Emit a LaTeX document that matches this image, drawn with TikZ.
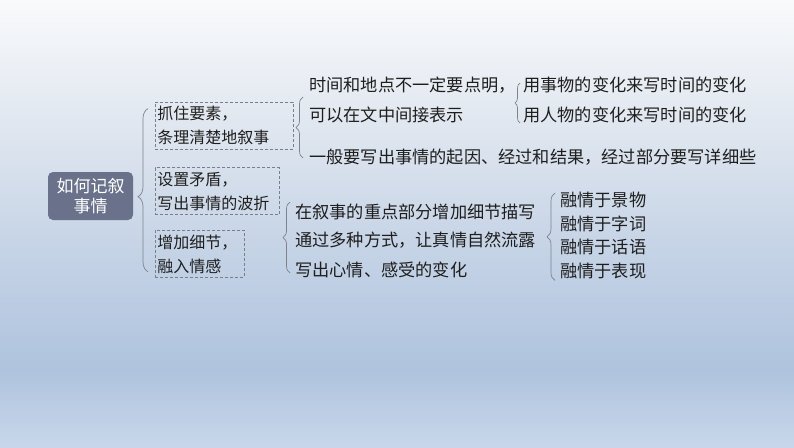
\documentclass[tikz,border=0pt]{standalone}
\usepackage{fontspec}
\setmainfont{Noto Sans CJK SC}
\usepackage{tikz}
\usetikzlibrary{positioning,decorations.pathreplacing}
\definecolor{bgtop}{RGB}{249, 250, 252}
\definecolor{bglight}{RGB}{223, 230, 239}
\definecolor{bgmid}{RGB}{197, 211, 230}
\definecolor{bgdark}{RGB}{175, 195, 222}
\definecolor{bgbot}{RGB}{200, 215, 234}
\definecolor{rootgray}{RGB}{105, 114, 138}
\definecolor{dashgray}{RGB}{120, 126, 138}
\definecolor{bracegray}{RGB}{125, 130, 140}
\definecolor{ink}{RGB}{30, 30, 30}
\pgfdeclareverticalshading{slidebg}{100bp}{color(0bp)=(bgbot); color(25bp)=(bgbot);
    color(33.6bp)=(bgdark); color(47bp)=(bgmid); color(60.5bp)=(bglight);
    color(75bp)=(bgtop); color(100bp)=(bgtop)}
\tikzstyle{root} = [rectangle, fill=rootgray, text=white, rounded corners=5pt,
    minimum width=85pt, minimum height=48pt, align=center,
    font=\fontsize{17}{20}\selectfont]
\tikzstyle{topic} = [rectangle, draw=dashgray, dash pattern=on 3pt off 2pt, line width=0.7pt,
    text=ink, align=left, inner xsep=2pt, inner ysep=0pt, minimum height=47pt,
    font=\fontsize{16}{24}\selectfont]
\tikzstyle{leaf} = [inner sep=0pt, anchor=west, text=ink, font=\fontsize{17.2}{20}\selectfont]
\tikzstyle{bracket} = [draw=bracegray, line width=0.7pt, decorate]

\begin{document}
\begin{tikzpicture}[x=1pt, y=-1pt]
  \useasboundingbox (0,0) rectangle (794,447);
  \shade[shading=slidebg] (0,0) rectangle (794,447);
  \node [root] (story) at (90.5,196) {如何记叙\\事情};
  \node [topic, text width=134pt, anchor=west] (grasp) at (155,125.5) {抓住要素，\\条理清楚地叙事};
  \node [topic, text width=120pt, below=18pt of grasp.south west, anchor=north west] (conflict) {设置矛盾，\\写出事情的波折};
  \node [topic, text width=85pt, below=15pt of conflict.south west, anchor=north west] (feel) {增加细节，\\融入情感};
  \path [bracket, decoration={brace, amplitude=10pt, aspect=0.46}]
    ([xshift=-7pt,yshift=6pt]feel.south west) -- ([xshift=-7pt,yshift=-7pt]grasp.north west);
  \node [leaf] (when) at (309,85) {时间和地点不一定要点明，};
  \node [leaf, below=30pt of when.west, anchor=west] (indirect) {可以在文中间接表示};
  \node [leaf, below=42pt of indirect.west, anchor=west] (cause) {一般要写出事情的起因、经过和结果，经过部分要写详细些};
  \path [bracket, decoration={brace, amplitude=7pt}]
    ([xshift=-6pt,yshift=-1pt]cause.west) -- ([xshift=-6pt,yshift=-12pt]when.west);
  \node [leaf] (things) at (523,85) {用事物的变化来写时间的变化};
  \node [leaf, below=30pt of things.west, anchor=west] (people) {用人物的变化来写时间的变化};
  \path [bracket, decoration={brace, amplitude=5pt}]
    ([xshift=-3pt,yshift=-8pt]people.west) -- ([xshift=-3pt,yshift=2pt]things.west);
  \node [leaf] (detail) at (295,212) {在叙事的重点部分增加细节描写};
  \node [leaf, below=28pt of detail.west, anchor=west] (ways) {通过多种方式，让真情自然流露};
  \node [leaf, below=30pt of ways.west, anchor=west] (mood) {写出心情、感受的变化};
  \path [bracket, decoration={brace, amplitude=7pt}]
    ([xshift=-5pt,yshift=-3pt]mood.west) -- ([xshift=-5pt,yshift=10pt]detail.west);
  \node [leaf] (scene) at (560,200) {融情于景物};
  \node [leaf, below=23.5pt of scene.west, anchor=west] (words) {融情于字词};
  \node [leaf, below=23.5pt of words.west, anchor=west] (speech) {融情于话语};
  \node [leaf, below=23.5pt of speech.west, anchor=west] (acts) {融情于表现};
  \path [bracket, decoration={brace, amplitude=8pt}]
    ([xshift=-5pt,yshift=-10pt]acts.west) -- ([xshift=-5pt,yshift=7pt]scene.west);
\end{tikzpicture}
\end{document}
